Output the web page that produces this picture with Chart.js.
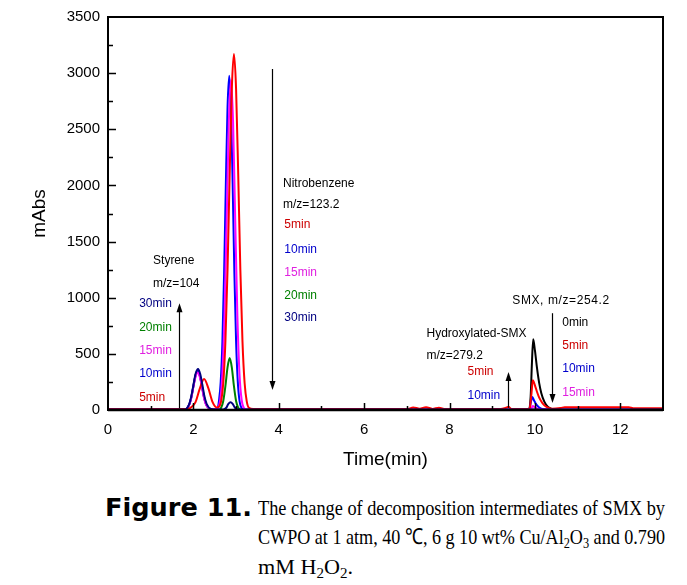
<!DOCTYPE html>
<html>
<head>
<meta charset="utf-8">
<script src="https://cdn.jsdelivr.net/npm/chart.js@4.4.0/dist/chart.umd.min.js"></script>
<style>
body { margin: 0; background: #fff; width: 687px; height: 585px; overflow: hidden; position: relative; }
#chart { position: absolute; left: 0; top: 0; }
.cap { position: absolute; white-space: nowrap; line-height: 30px; height: 30px; font-family: "Liberation Serif", "Times New Roman", serif; font-size: 22px; color: #000; transform-origin: 0 50%; }
.cap sub { font-size: 0.68em; line-height: 0; vertical-align: -0.25em; }
.fig { font-family: "DejaVu Sans", sans-serif; font-weight: bold; font-size: 24px; }
</style>
</head>
<body>
<canvas id="chart" width="687" height="480"></canvas>
<div class="cap fig" data-w="147" style="left:105px;top:493px">Figure 11.</div>
<div class="cap" data-w="407" style="left:258px;top:493px">The change of decomposition intermediates of SMX by</div>
<div class="cap" data-w="407" style="left:258px;top:522px">CWPO at 1 atm, 40 ℃, 6 g 10 wt% Cu/Al<sub>2</sub>O<sub>3</sub> and 0.790</div>
<div class="cap" data-w="95" style="left:258px;top:552px">mM H<sub>2</sub>O<sub>2</sub>.</div>
<script>
// retention time (min) / absorbance (mAbs)
const t0 = [0, 9.86, 9.9, 9.93, 9.96, 10.0, 10.05, 10.1, 10.15, 10.22, 10.3, 10.4, 10.5, 13]
const y0 = [0, 0, 120, 420, 630, 530, 370, 240, 150, 75, 30, 8, 0, 0]

const t5 = [0, 1.85, 1.95, 2.05, 2.15, 2.25, 2.35, 2.45, 2.55, 2.6, 2.65, 2.7, 2.75, 2.8, 2.85, 2.9, 2.95, 3.0, 3.05, 3.1, 3.15, 3.2, 3.25, 3.3, 3.4,
  7.0, 7.15, 7.3, 7.45, 7.6, 7.75, 7.9, 9.2, 9.32, 9.38, 9.45, 9.85, 9.88, 9.92, 9.95, 10.0, 10.05, 10.1, 10.18, 10.28, 10.4, 10.6, 10.7, 12.2, 12.3, 13]
const y5 = [8, 8, 25, 70, 190, 275, 195, 70, 22, 30, 77, 240, 610, 1250, 2100, 2860, 3170, 2860, 2100, 1250, 610, 240, 77, 20, 8,
  8, 22, 12, 25, 10, 20, 8, 8, 20, 28, 10, 10, 20, 150, 266, 220, 160, 110, 60, 25, 12, 18, 25, 25, 15, 15]

const t10 = [0, 1.8, 1.9, 1.95, 2.0, 2.05, 2.1, 2.15, 2.2, 2.25, 2.3, 2.4, 2.5, 2.56, 2.6, 2.64, 2.68, 2.72, 2.76, 2.8, 2.84, 2.88, 2.92, 2.96, 3.0, 3.04, 3.08, 3.14, 3.2,
  9.85, 9.88, 9.91, 9.94, 9.98, 10.03, 10.1, 10.2, 10.35, 13]
const y10 = [3, 3, 45, 110, 210, 305, 350, 305, 215, 115, 50, 8, 4, 12, 84, 252, 613, 1223, 2005, 2695, 2976, 2695, 2005, 1223, 613, 252, 84, 12, 3,
  3, 20, 80, 115, 85, 50, 22, 6, 3, 3]

const t15 = [0, 1.8, 1.9, 1.95, 2.0, 2.05, 2.1, 2.15, 2.2, 2.25, 2.3, 2.4, 2.5, 2.58, 2.63, 2.68, 2.73, 2.78, 2.83, 2.88, 2.93, 2.98, 3.03, 3.08, 3.13, 3.18, 3.25,
  9.9, 9.95, 10.0, 10.1, 10.2, 13]
const y15 = [4, 4, 45, 105, 205, 295, 335, 295, 205, 105, 45, 8, 4, 20, 92, 320, 845, 1690, 2560, 2940, 2560, 1690, 845, 320, 92, 20, 5,
  4, 35, 22, 8, 4, 4]

const t20 = [0, 1.8, 1.9, 1.95, 2.0, 2.05, 2.1, 2.15, 2.2, 2.25, 2.3, 2.4, 2.6, 2.65, 2.7, 2.75, 2.8, 2.85, 2.9, 2.95, 3.0, 3.05, 3.12, 13]
const y20 = [3, 3, 45, 110, 210, 310, 345, 310, 215, 110, 48, 8, 3, 20, 80, 212, 380, 462, 380, 212, 80, 20, 3, 3]

const t30 = [0, 1.8, 1.9, 1.95, 2.0, 2.05, 2.11, 2.16, 2.21, 2.26, 2.31, 2.41, 2.55, 2.7, 2.77, 2.82, 2.87, 2.92, 2.97, 3.05, 13]
const y30 = [5, 5, 50, 120, 220, 320, 365, 320, 225, 120, 55, 10, 5, 5, 20, 55, 70, 55, 22, 5, 5]

const xTicks = [0, 2, 4, 6, 8, 10, 12]
const yTicks = [0, 500, 1000, 1500, 2000, 2500, 3000, 3500]

// [time, mAbs, text, colour]
const notes = [
  [1.055, 1332, 'Styrene', '#000'],
  [1.055, 1128, 'm/z=104', '#000'],
  [0.73, 950, '30min', '#000080'],
  [0.73, 737, '20min', '#008000'],
  [0.73, 524, '15min', '#e020e0'],
  [0.73, 320, '10min', '#0000cc'],
  [0.73, 107, '5min', '#cc0000'],
  [4.1, 2017, 'Nitrobenzene', '#000'],
  [4.1, 1830, 'm/z=123.2', '#000'],
  [4.13, 1652, '5min', '#cc0000'],
  [4.13, 1430, '10min', '#0000cc'],
  [4.13, 1226, '15min', '#e020e0'],
  [4.13, 1022, '20min', '#008000'],
  [4.13, 826, '30min', '#000080'],
  [9.47, 977, 'SMX, m/z=254.2', '#000'],
  [7.46, 684, 'Hydroxylated-SMX', '#000'],
  [7.46, 480, 'm/z=279.2', '#000'],
  [8.42, 338, '5min', '#cc0000'],
  [8.42, 124, '10min', '#0000cc'],
  [10.64, 782, '0min', '#000'],
  [10.64, 577, '5min', '#cc0000'],
  [10.64, 364, '10min', '#0000cc'],
  [10.64, 151, '15min', '#e020e0']
]
// [time, from mAbs, to mAbs (arrow tip)]
const arrows = [[1.67, 15, 950], [3.85, 3038, 178], [9.38, 20, 338], [10.41, 862, 62]]

const pts = (t, y) => t.map((v, i) => ({ x: v, y: y[i] }))

const series = [
  ['30min', t30, y30, '#000080'],
  ['5min', t5, y5, '#ff0000'],
  ['15min', t15, y15, '#ff00ff'],
  ['10min', t10, y10, '#0000ff'],
  ['20min', t20, y20, '#008000'],
  ['0min', t0, y0, '#000000']
]

const extras = {
  id: 'extras',
  afterDatasetsDraw(chart) {
    const { ctx, chartArea: a, scales: { x, y } } = chart
    ctx.save()
    ctx.strokeStyle = '#000'
    ctx.lineWidth = 2
    ctx.strokeRect(a.left, a.top, a.right - a.left, a.bottom - a.top)
    ctx.lineWidth = 1.5
    ctx.beginPath()
    for (let v = 1; v < 13; v++) {
      const px = Math.round(x.getPixelForValue(v)) + 0.5
      ctx.moveTo(px, a.bottom)
      ctx.lineTo(px, a.bottom - (v % 2 ? 4 : 7))
    }
    for (let v = 250; v < 3500; v += 250) {
      const py = Math.round(y.getPixelForValue(v)) + 0.5
      ctx.moveTo(a.left, py)
      ctx.lineTo(a.left + (v % 500 ? 5 : 8), py)
    }
    ctx.stroke()
    ctx.lineWidth = 2.5
    ctx.beginPath()
    ctx.moveTo(a.left, a.bottom)
    ctx.lineTo(a.right, a.bottom)
    ctx.stroke()

    // labels
    ctx.font = '12px "Liberation Sans", Arial, sans-serif'
    ctx.textBaseline = 'middle'
    ctx.textAlign = 'left'
    notes.forEach(([tx, ty, txt, col]) => {
      ctx.fillStyle = col
      ctx.letterSpacing = txt.startsWith('SMX') ? '0.6px' : '0px'
      ctx.fillText(txt, x.getPixelForValue(tx), y.getPixelForValue(ty))
    })
    ctx.letterSpacing = '0px'

    // arrows
    ctx.strokeStyle = '#000'
    ctx.fillStyle = '#000'
    ctx.lineWidth = 1.2
    arrows.forEach(([tx, from, to]) => {
      const px = Math.round(x.getPixelForValue(tx)) + 0.5
      const p1 = y.getPixelForValue(from)
      const p2 = y.getPixelForValue(to)
      const dir = p2 < p1 ? 1 : -1
      ctx.beginPath()
      ctx.moveTo(px, p1)
      ctx.lineTo(px, p2 + dir * 6)
      ctx.stroke()
      ctx.beginPath()
      ctx.moveTo(px, p2)
      ctx.lineTo(px - 3, p2 + dir * 9)
      ctx.lineTo(px + 3, p2 + dir * 9)
      ctx.closePath()
      ctx.fill()
    })
    ctx.restore()
  }
}

const axisFont = { family: '"Liberation Sans", Arial, sans-serif', size: 15 }

new Chart(document.getElementById('chart'), {
  type: 'scatter',
  data: {
    datasets: series.map(([label, t, v, col]) => ({
      label: label,
      data: pts(t, v),
      showLine: true,
      borderColor: col,
      backgroundColor: col,
      borderWidth: 2,
      pointRadius: 0,
      cubicInterpolationMode: 'monotone',
      tension: 0.4
    }))
  },
  options: {
    responsive: false,
    animation: false,
    devicePixelRatio: 1,
    layout: { padding: { left: 28, right: 24, top: 16, bottom: 0 } },
    plugins: { legend: { display: false }, tooltip: { enabled: false } },
    scales: {
      x: {
        type: 'linear', min: 0, max: 13,
        afterFit: s => { s.height = 70 },
        afterBuildTicks: s => { s.ticks = xTicks.map(v => ({ value: v })) },
        ticks: { font: axisFont, color: '#000', padding: 11, maxRotation: 0, callback: v => String(v) },
        grid: { display: false, drawTicks: false },
        border: { display: false },
        title: { display: true, text: 'Time(min)', color: '#000', font: { family: axisFont.family, size: 19 }, padding: { top: 0, bottom: 9 } }
      },
      y: {
        min: 0, max: 3500,
        afterFit: s => { s.width = 80 },
        afterBuildTicks: s => { s.ticks = yTicks.map(v => ({ value: v })) },
        ticks: { font: axisFont, color: '#000', padding: 8, callback: v => String(v) },
        grid: { display: false, drawTicks: false },
        border: { display: false },
        title: { display: true, text: 'mAbs', color: '#000', font: { family: axisFont.family, size: 19 }, padding: { top: 0, bottom: 0 } }
      }
    }
  },
  plugins: [extras]
})

// squeeze caption lines to the widths seen in the figure
document.querySelectorAll('.cap').forEach(el => {
  const w = el.getBoundingClientRect().width
  el.style.transform = 'scaleX(' + (Number(el.dataset.w) / w) + ')'
})
</script>
</body>
</html>
